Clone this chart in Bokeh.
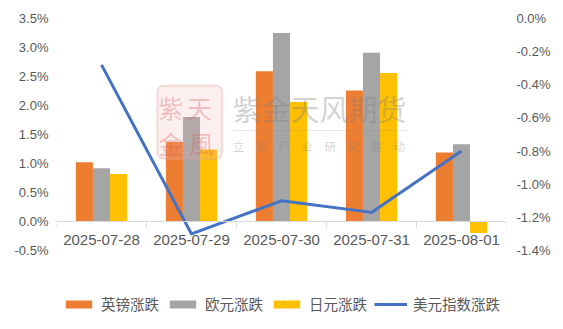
from bokeh.plotting import figure
from bokeh.models import (Range1d, LinearAxis, FixedTicker,
                          PrintfTickFormatter, CustomJSTickFormatter, Legend, LegendItem,
                          ColumnDataSource, Label, BoxAnnotation)
from bokeh.transform import dodge
from bokeh.embed import file_html
from bokeh.resources import INLINE

# ---- data ----
dates = ["2025-07-28", "2025-07-29", "2025-07-30", "2025-07-31", "2025-08-01"]
gbp = [1.02, 1.37, 2.59, 2.26, 1.19]      # 英镑涨跌 (%)
eur = [0.92, 1.80, 3.25, 2.91, 1.33]      # 欧元涨跌 (%)
jpy = [0.82, 1.24, 2.06, 2.56, -0.20]     # 日元涨跌 (%)
usd = [-0.28, -1.30, -1.10, -1.17, -0.80] # 美元指数涨跌 (%), right axis
left_ticks = [-0.5, 0.0, 0.5, 1.0, 1.5, 2.0, 2.5, 3.0, 3.5]
right_ticks = [-1.4, -1.2, -1.0, -0.8, -0.6, -0.4, -0.2, 0.0]
series_names = ["英镑涨跌", "欧元涨跌", "日元涨跌", "美元指数涨跌"]

# category slots: centre of slot i is i + 0.5
xs = [i + 0.5 for i in range(len(dates))]
bounds = [i for i in range(len(dates) + 1)]

src = ColumnDataSource(dict(x=xs, date=dates, gbp=gbp, eur=eur, jpy=jpy, usd=usd))

TXT = "#595959"
LAT = "Liberation Sans"
CJK = "Noto Sans CJK SC"

# axis span is 232 px tall; the frame extends EXT px lower to hold the legend
AX_PX = 232.0
EXT = 70.0
l_lo, l_hi = left_ticks[0], left_ticks[-1]
r_lo, r_hi = right_ticks[0], right_ticks[-1]
l_ext = l_lo - EXT * (l_hi - l_lo) / AX_PX
r_ext = r_lo - EXT * (r_hi - r_lo) / AX_PX

p = figure(width=563, height=329, output_backend="svg", toolbar_location=None,
           x_range=Range1d(0, len(dates)), y_range=Range1d(l_ext, l_hi),
           x_axis_location=None,
           min_border_left=56, min_border_right=57, min_border_top=18, min_border_bottom=9)
p.extra_y_ranges = {"usd": Range1d(r_ext, r_hi)}
p.outline_line_color = None
p.xgrid.visible = False
p.ygrid.visible = False
p.background_fill_color = "white"
p.border_fill_color = "white"

# ---- bars ----
w = 0.19
r_gbp = p.vbar(x=dodge("x", -w), top="gbp", width=w, source=src,
               fill_color="#ED7D31", line_color=None)
r_eur = p.vbar(x=dodge("x", 0), top="eur", width=w, source=src,
               fill_color="#A5A5A5", line_color=None)
r_jpy = p.vbar(x=dodge("x", w), top="jpy", width=w, source=src,
               fill_color="#FFC000", line_color=None)

# ---- line ----
r_usd = p.line(x="x", y="usd", source=src, y_range_name="usd",
               line_color="#4472C4", line_width=3, line_join="round")

# ---- watermark (semi-transparent, drawn over the bars) ----
p.add_layout(BoxAnnotation(left=1.12, right=1.84, top=2.34, bottom=1.08,
                           fill_color="#F3B8B8", fill_alpha=0.22,
                           line_color="#E9A0A0", line_alpha=0.35, line_width=2,
                           border_radius=6))
for ch, xx, yy in [("紫", 1.27, 1.98), ("天", 1.59, 1.98), ("金", 1.27, 1.36), ("風", 1.61, 1.36)]:
    p.add_layout(Label(x=xx, y=yy, text=ch, text_align="center", text_baseline="middle",
                       text_font=CJK, text_font_size="25px", text_color="#D24A4A",
                       text_alpha=0.3))
p.add_layout(Label(x=1.956, y=1.957, text="紫金天风期货", text_align="left",
                   text_baseline="middle", text_font=CJK, text_font_size="29px",
                   text_color="#7F7F7F", text_alpha=0.35))
p.add_layout(BoxAnnotation(left=1.956, right=3.9, top=1.577, bottom=1.561,
                           fill_color="#7F7F7F", fill_alpha=0.18, line_color=None))
p.add_layout(Label(x=1.956, y=1.31, text="立　足　产　业　研　究　驱　动", text_align="left",
                   text_baseline="middle", text_font=CJK, text_font_size="11.5px",
                   text_color="#7F7F7F", text_alpha=0.35))

# ---- axes ----
ya = p.yaxis[0]
ya.ticker = FixedTicker(ticks=left_ticks)
ya.formatter = PrintfTickFormatter(format="%.1f%%")
ya.axis_line_color = None
ya.major_tick_line_color = None
ya.minor_tick_line_color = None
ya.major_tick_out = 0
ya.major_tick_in = 0
ya.major_label_standoff = 8
ya.major_label_text_color = TXT
ya.major_label_text_font = LAT
ya.major_label_text_font_size = "13px"

ra = LinearAxis(y_range_name="usd", ticker=FixedTicker(ticks=right_ticks),
                formatter=PrintfTickFormatter(format="%.1f%%"),
                axis_line_color=None, major_tick_line_color=None, minor_tick_line_color=None,
                major_tick_out=0, major_tick_in=0, major_label_standoff=10,
                major_label_text_color=TXT, major_label_text_font=LAT,
                major_label_text_font_size="13px")
p.add_layout(ra, "right")

# category axis line with boundary tick marks, crossing at 0
ta = LinearAxis(fixed_location=0, ticker=FixedTicker(ticks=bounds),
                formatter=CustomJSTickFormatter(code="return ''"),
                axis_line_color="#D9D9D9", axis_line_width=1,
                major_tick_line_color="#D9D9D9", major_tick_out=6, major_tick_in=0,
                minor_tick_line_color=None)
p.add_layout(ta, "below")

# category labels at slot centres
ca = LinearAxis(fixed_location=0, ticker=FixedTicker(ticks=xs),
                major_label_overrides={x: d for x, d in zip(xs, dates)},
                axis_line_color=None, major_tick_line_color=None, minor_tick_line_color=None,
                major_tick_out=0, major_tick_in=0, major_label_standoff=13,
                major_label_text_color=TXT, major_label_text_font=LAT,
                major_label_text_font_size="15px")
p.add_layout(ca, "below")

# ---- legend ----
legend = Legend(items=[LegendItem(label=n, renderers=[r]) for n, r in
                       zip(series_names, [r_gbp, r_eur, r_jpy, r_usd])],
                orientation="horizontal", location=(6, 6), padding=0, margin=0,
                spacing=7, label_standoff=6, glyph_width=33, glyph_height=10,
                label_height=10, border_line_color=None, background_fill_alpha=0,
                label_text_font=CJK, label_text_font_size="14.5px",
                label_text_color=TXT)
p.add_layout(legend)

open("out.html", "w").write(file_html(p, INLINE))
